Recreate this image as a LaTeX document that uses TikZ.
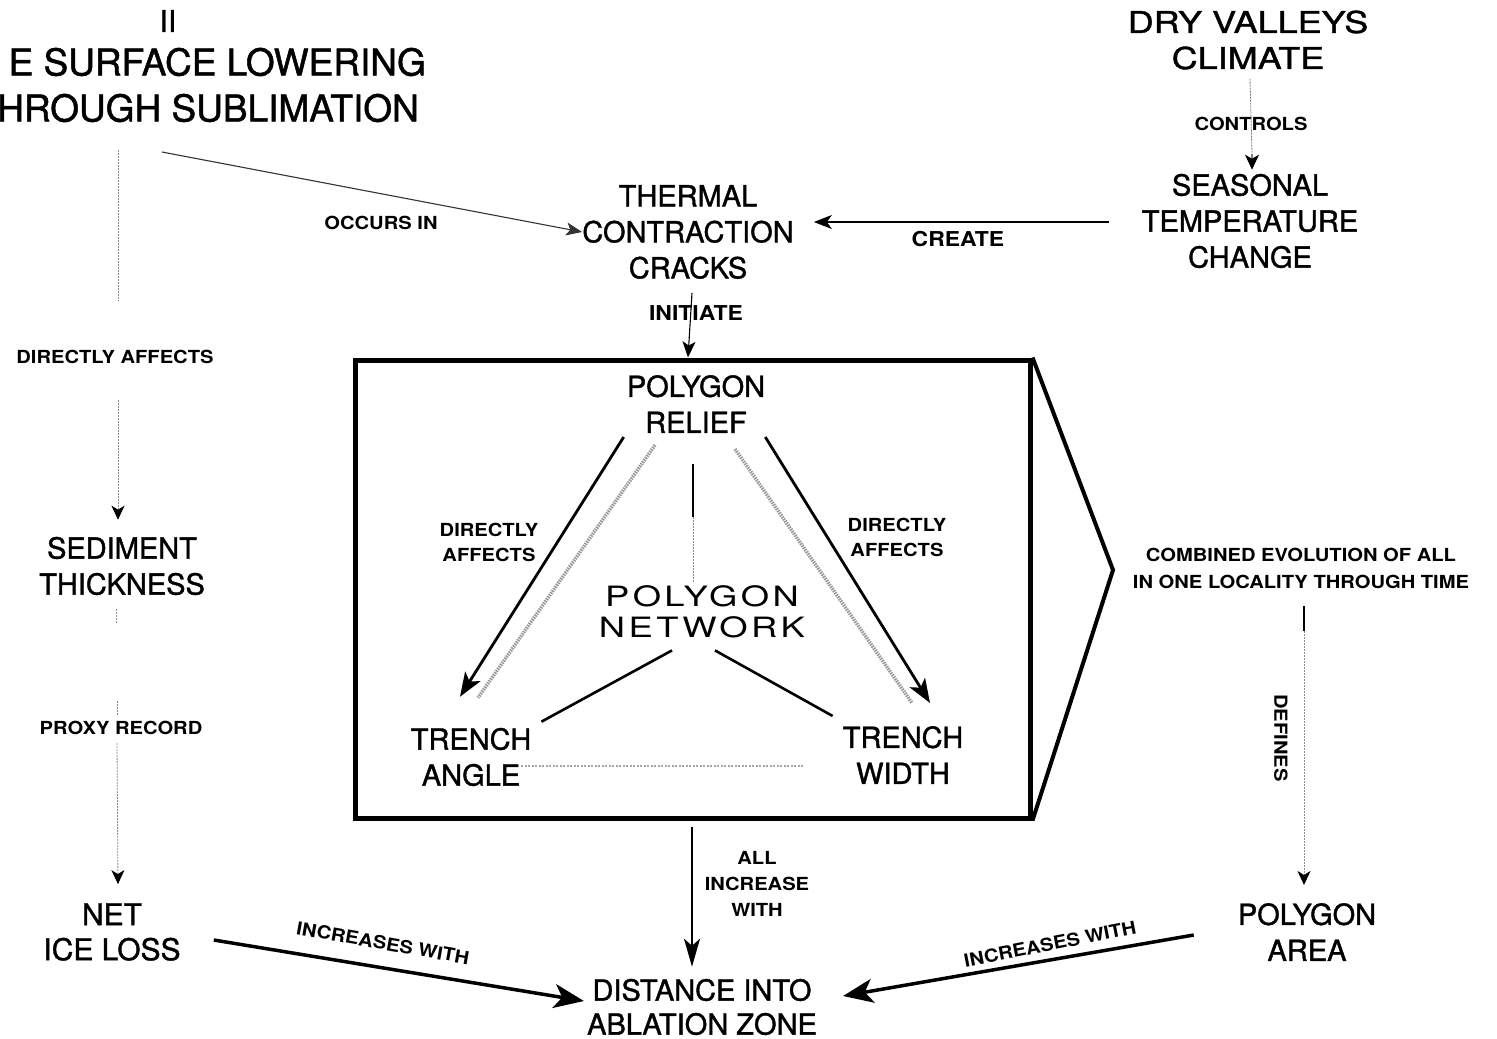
\documentclass[tikz,border=0pt]{standalone}
\usepackage{fontspec}
\setmainfont{TeX Gyre Heros}[FakeBold=1.3]
\newfontfamily\labfont{TeX Gyre Heros}[FakeStretch=1.12]
\newfontfamily\widefont{TeX Gyre Heros}[FakeStretch=1.2,FakeBold=1.3]
\newfontfamily\netfont{TeX Gyre Heros}[FakeStretch=1.3,LetterSpace=12]
\usetikzlibrary{arrows.meta,calc}

\begin{document}
\begin{tikzpicture}[x=1pt,y=-1pt,
  big/.style={font=\fontsize{29}{36}\selectfont, align=center, inner sep=0pt},
  title/.style={font=\fontsize{37}{46}\selectfont, inner sep=0pt},
  lbl/.style={font=\labfont\bfseries\fontsize{18}{25}\selectfont, align=center, inner sep=0pt},
  midlbl/.style={font=\labfont\bfseries\fontsize{20.5}{26}\selectfont, align=center, inner sep=0pt},
  faint/.style={draw=black!45, line width=0.8pt, dash pattern=on 2pt off 1pt},
  thinarr/.style={line width=1.1pt, -{Stealth[length=16pt,width=13pt,inset=4pt]}},
  fainttip/.style={faint, -{Stealth[length=14pt,width=13pt,inset=4pt,color=black]}},
  heavyarr/.style={line width=3.5pt, -{Stealth[length=30pt,width=24pt,inset=8pt]}},
  midarr/.style={line width=2.8pt, -{Stealth[length=24pt,width=18pt,inset=6pt]}},
  tie/.style={line width=2.6pt},
  halftone/.style={draw=black!40, line width=3.5pt, dash pattern=on 1.5pt off 1pt}
]
\useasboundingbox (0,0) rectangle (1497,1039);

% ---------- headline groups ----------
\node[font=\fontsize{30}{36}\selectfont, inner sep=0pt] (ii) at (168,21) {II};
\node[title, anchor=east] (subA) at (426,62) {E SURFACE LOWERING};
\node[title, anchor=east] (subB) at (419,108) {HROUGH SUBLIMATION};
\coordinate (subL) at (118,150);
\coordinate (subR) at (162,152);

\node[font=\widefont\fontsize{30}{36}\selectfont, align=center, inner sep=0pt] (dvc) at (1248,40) {DRY VALLEYS\\CLIMATE};
\node[lbl] (controls) at (1251,124) {CONTROLS};
\node[big] (stc) at (1250,221) {SEASONAL\\TEMPERATURE\\CHANGE};

\node[big] (tcc) at (688,232) {THERMAL\\CONTRACTION\\CRACKS};
\node[lbl] (occurs) at (381,223) {OCCURS IN};
\node[midlbl] (create) at (958,239) {CREATE};
\node[midlbl] (initiate) at (696,313) {INITIATE};

% ---------- left column ----------
\node[lbl] (daL) at (115,357) {DIRECTLY AFFECTS};
\node[big] (sed) at (122,566) {SEDIMENT\\THICKNESS};
\node[lbl] (proxy) at (121,728) {PROXY RECORD};
\node[big, font=\fontsize{30}{35}\selectfont] (nil) at (112,932) {NET\\ICE LOSS};

% ---------- polygon network box ----------
\node[draw, line width=5pt, minimum width=675pt, minimum height=458pt, inner sep=0pt] (box) at (692.5,589) {};
\node[big] (relief) at (696,404) {POLYGON\\RELIEF};
\node[font=\netfont\fontsize{28}{31}\selectfont, align=center, inner sep=0pt] (net) at (702,612) {POLYGON\\NETWORK};
\node[big] (angle) at (471,757) {TRENCH\\ANGLE};
\node[big] (width) at (903,755) {TRENCH\\WIDTH};
\node[lbl] (daA) at (489,542) {DIRECTLY\\AFFECTS};
\node[lbl] (daW) at (897,537) {DIRECTLY\\AFFECTS};

% shaded sides of the triangle
\draw[halftone] ($(relief.south)+(-41,12)$) -- ($(angle.north)+(7,-30)$);
\draw[halftone] ($(relief.south)+(39,16)$) -- ($(width.north)+(9,-23)$);
\draw[draw=black!35, line width=1.4pt, dash pattern=on 2pt off 1.5pt] ($(angle.east)+(-10,9)$) -- ($(width.west)+(-40,11)$);

% relief and network links
\draw[midarr] ($(relief.south west)+(-3,4)$) -- ($(angle.north)+(-11,-31)$);
\draw[midarr] ($(relief.south east)+(0,4)$) -- ($(width.north)+(27,-23)$);
\draw[tie] ($(relief.south)+(-3,31)$) -- ($(relief.south)+(-3,84)$);
\draw[faint] ($(relief.south)+(-3,84)$) -- ($(relief.south)+(-3,150)$);
\draw[tie] ($(net.south)+(-30,12)$) -- ($(angle.north east)+(10,-6)$);
\draw[tie] ($(net.south)+(13,12)$) -- ($(width.north west)+(-10,-10)$);

% bracket and summary
\draw[line width=4pt, line join=miter] (box.north east) -- (1113,570) coordinate (tip) -- (box.south east);
\node[lbl, font=\labfont\bfseries\fontsize{18}{27}\selectfont] (comb) at (1301,568) {COMBINED EVOLUTION OF ALL\\IN ONE LOCALITY THROUGH TIME};
\node[lbl, rotate=-90] (defines) at (1281,738) {DEFINES};
\node[big] (area) at (1307,932) {POLYGON\\AREA};

% ---------- bottom ----------
\node[big, font=\fontsize{29}{34}\selectfont] (dist) at (702,1007) {DISTANCE INTO\\ABLATION ZONE};
\node[lbl, font=\labfont\bfseries\fontsize{18}{26}\selectfont] (all) at (757,884) {ALL\\INCREASE\\WITH};
\node[lbl, rotate=-10] (incL) at (383,943) {INCREASES WITH};
\node[lbl, rotate=11] (incR) at (1050,944) {INCREASES WITH};

% ---------- connectors ----------
\draw[faint] (subL) -- ($(daL.north)+(3,-50)$);
\draw[fainttip] ($(daL.south)+(3,36)$) -- ($(sed.north)+(-4,-17)$);
\draw[faint] ($(sed.south)+(-6,14)$) -- ($(sed.south)+(-6,28)$);
\draw[faint] ($(proxy.north)+(-4,-20)$) -- ($(proxy.north)+(-4,-6)$);
\draw[fainttip] ($(proxy.south)+(-4,8)$) -- ($(nil.north)+(6,-19)$);

\draw[thinarr, draw=black!80] (subR) -- (tcc.west);
\draw[thinarr, -{Stealth[length=18pt,width=14pt,inset=5pt]}] ($(stc.west)+(-33,1)$) -- ($(tcc.east)+(20,-10)$);
\draw[faint, draw=black!55] ($(dvc.south)+(2,9)$) -- ($(stc.north)+(2,-20)$);
\draw[thinarr, draw=black!50, -{Stealth[length=15pt,width=14pt,inset=4pt,color=black]}] ($(stc.north)+(2,-20)$) -- ($(stc.north)+(2,-4)$);
\draw[thinarr] ($(tcc.south)+(4,14)$) -- (box.north -| tcc.south);

\draw[line width=2.6pt] ($(comb.south)+(3,18)$) -- ($(comb.south)+(3,43)$);
\draw[fainttip] ($(comb.south)+(3,43)$) -- ($(area.north)+(-3,-18)$);

\draw[line width=2.2pt, -{Stealth[length=28pt,width=16pt,inset=7pt]}] (box.south -| dist.north) ++(-10,6) coordinate (dropTop) -- ($(dist.north)+(-10,-12)$);
\draw[heavyarr] ($(nil.east)+(33,8)$) -- ($(dist.west)+(-3,-6)$);
\draw[heavyarr] ($(area.west)+(-44,3)$) -- ($(dist.east)+(26,-11)$);
\end{tikzpicture}
\end{document}
